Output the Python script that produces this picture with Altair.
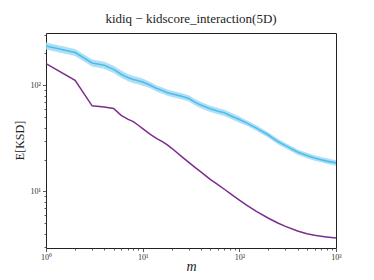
import altair as alt
import pandas as pd

m_vals = [1, 2, 3, 4, 5, 6, 7, 8, 9, 10, 12, 14, 16, 18, 20, 25, 30, 35, 40, 50,
          60, 70, 80, 100, 120, 150, 200, 250, 300, 400, 500, 600, 700, 800, 1000]

blue_mean = [234, 203, 162, 154, 141, 127, 118, 113, 110, 107, 100, 93, 89, 85, 83,
             79, 75, 69, 65, 60, 57, 55, 52, 47.5, 44, 39.5, 34, 29.5, 27, 23.5,
             21.8, 20.7, 19.9, 19.3, 18.6]
blue_upper = [252.7, 219.2, 175, 166.3, 152.3, 137.2, 127.4, 122, 118.8, 115.6,
              107, 99.5, 95.2, 91, 88.8, 84.5, 80.3, 73.8, 69.6, 64.2, 61, 58.9,
              55.6, 50.8, 46.6, 41.9, 36, 31.3, 28.6, 24.9, 23.1, 21.9, 21.1, 20.5, 19.7]
blue_lower = [216.7, 188, 150, 142.6, 130.6, 117.6, 109.3, 104.6, 101.9, 99.1,
              93.5, 86.9, 83.2, 79.4, 77.6, 73.8, 70.1, 64.5, 60.7, 56.1, 53.3, 51.4,
              48.6, 44.4, 41.5, 37.3, 32.1, 27.8, 25.5, 22.2, 20.6, 19.5, 18.8, 18.2, 17.5]
purple_mean = [160, 111, 64, 62.5, 60.5, 52, 48, 45.5, 42, 39, 34.5, 31.5, 29.5, 27.5,
               25.5, 21.5, 18.8, 16.8, 15.3, 13.0, 11.6, 10.5, 9.6, 8.3, 7.4, 6.5, 5.6,
               5.05, 4.7, 4.25, 4.0, 3.88, 3.8, 3.74, 3.65]

x_ticks = [1, 2, 3, 4, 5, 6, 7, 8, 9, 10, 20, 30, 40, 50, 60, 70, 80, 90,
           100, 200, 300, 400, 500, 600, 700, 800, 900, 1000]
y_ticks = [3, 4, 5, 6, 7, 8, 9, 10, 20, 30, 40, 50, 60, 70, 80, 90, 100, 200, 300]
x_domain = [1, 1000]
y_domain = [2.94, 310]

title_text = "kidiq − kidscore_interaction(5D)"

band_df = pd.DataFrame({"m": m_vals, "lo": blue_lower, "hi": blue_upper})
blue_df = pd.DataFrame({"m": m_vals, "v": blue_mean})
purple_df = pd.DataFrame({"m": m_vals, "v": purple_mean})

SERIF = "Liberation Serif"
L10 = "(log(datum.value)/LN10)"
is_major = f"abs({L10} - round({L10})) < 0.001"
e = f"round({L10})"
label_expr = (f"{is_major} ? ({e}==0 ? '10⁰' : {e}==1 ? '10¹' : {e}==2 ? '10²' : "
              f"{e}==3 ? '10³' : '') : ''")
tick_size = {"condition": {"test": is_major, "value": 3.5}, "value": 2}

x_axis = alt.Axis(values=x_ticks, labelExpr=label_expr, tickSize=tick_size,
                  labelOverlap=False, labelFlush=False, grid=False, domain=False,
                  tickColor="#333", tickWidth=0.8, labelFont=SERIF, labelFontSize=8,
                  labelColor="#333", labelPadding=2,
                  title="m", titleFont=SERIF, titleFontStyle="italic",
                  titleFontWeight="normal", titleFontSize=14, titleColor="#222",
                  titleX=145, titleY=22, titleBaseline="alphabetic")
y_axis = alt.Axis(values=y_ticks, labelExpr=label_expr, tickSize=tick_size,
                  labelOverlap=False, labelFlush=False, grid=False, domain=False,
                  tickColor="#333", tickWidth=0.8, labelFont=SERIF, labelFontSize=8,
                  labelColor="#333", labelPadding=2,
                  title="E[KSD]", titleFont=SERIF, titleFontWeight="normal",
                  titleFontSize=12, titleColor="#222", titleAngle=-90,
                  titleX=-27, titleY=107, titleBaseline="middle", titleAlign="center")

xs = alt.Scale(type="log", domain=x_domain, nice=False)
ys = alt.Scale(type="log", domain=y_domain, nice=False)

band = alt.Chart(band_df).mark_area(color="#a6dcf4", opacity=0.9).encode(
    x=alt.X("m:Q", scale=xs, axis=x_axis),
    y=alt.Y("lo:Q", scale=ys, axis=y_axis),
    y2="hi:Q",
)
blue = alt.Chart(blue_df).mark_line(color="#4fbdec", strokeWidth=1.6).encode(
    x=alt.X("m:Q", scale=xs, axis=x_axis),
    y=alt.Y("v:Q", scale=ys, axis=y_axis),
)
purple = alt.Chart(purple_df).mark_line(color="#7b2d8e", strokeWidth=1.5).encode(
    x=alt.X("m:Q", scale=xs, axis=x_axis),
    y=alt.Y("v:Q", scale=ys, axis=y_axis),
)

chart = alt.layer(band, blue, purple).properties(
    width=290, height=215,
    title=alt.TitleParams(title_text, font=SERIF, fontSize=13, fontWeight="normal",
                          color="#222", anchor="middle", offset=5),
    autosize=alt.AutoSizeParams(type="none"),
    padding={"left": 38, "top": 25, "right": 30, "bottom": 24},
).configure_view(stroke="#222", strokeWidth=1)

chart.save("out.html", embed_options={"renderer": "svg", "actions": False})
